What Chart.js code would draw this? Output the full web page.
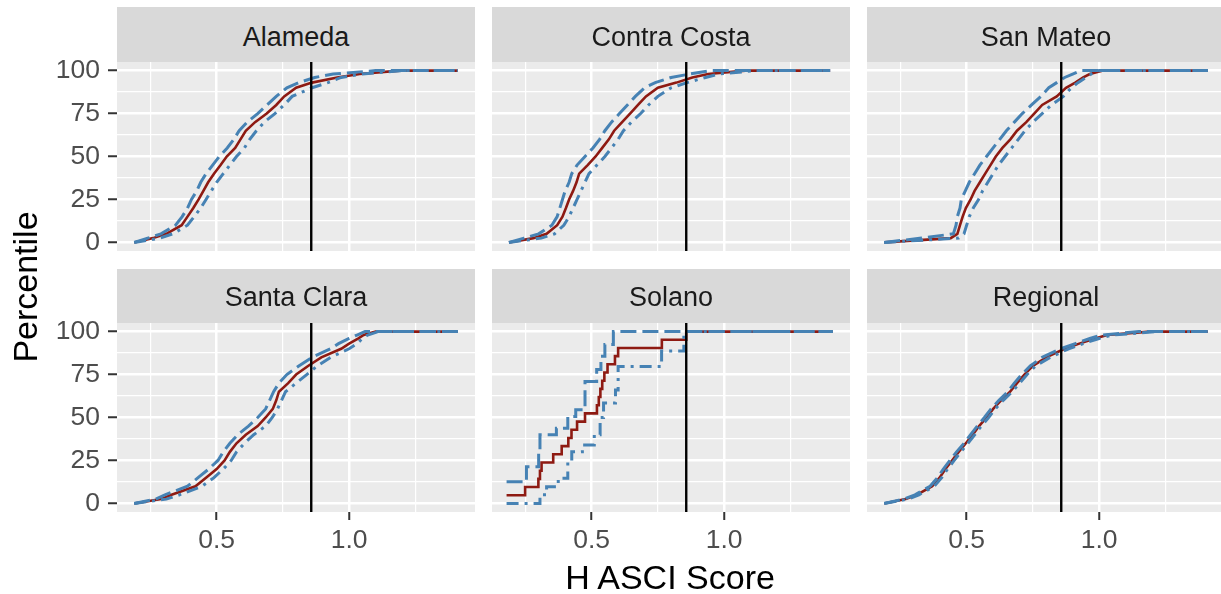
<!DOCTYPE html>
<html><head><meta charset="utf-8">
<script src="https://cdn.jsdelivr.net/npm/chart.js@4.4.0/dist/chart.umd.min.js"></script>
<style>
html,body{margin:0;padding:0;background:#fff;width:1221px;height:594px;overflow:hidden;position:relative;font-family:"Liberation Sans",Arial,sans-serif;}
.strip{position:absolute;background:#D9D9D9;}
.strip span{position:absolute;left:0;right:0;text-align:center;font-size:27px;line-height:27px;color:#1A1A1A;white-space:nowrap;}
canvas{position:absolute;}
.title{position:absolute;color:#000;font-size:34px;line-height:34px;white-space:nowrap;text-align:center;}
</style></head><body>
<script>
// ---------- DATA ----------
const panelNames = ['Alameda','Contra Costa','San Mateo','Santa Clara','Solano','Regional'];
const xTickVals = [0.25, 0.5, 0.75, 1.0, 1.25];
const xTickLabels = ['', '0.5', '', '1.0', ''];
const yTickVals = [0, 12.5, 25, 37.5, 50, 62.5, 75, 87.5, 100];
const yTickLabels = ['0', '', '25', '', '50', '', '75', '', '100'];
const thresholdScore = 0.857;

// percentile levels shared by the smooth panels (last entry = right end of line)
const levelsY = [0, 2.5, 5, 10, 15, 20, 25, 30, 35, 40, 45, 50, 55, 60, 65, 70, 75, 80, 85, 90, 93, 96, 98, 100, 100];

const alamedaMed = [0.189, 0.26, 0.31, 0.368, 0.39, 0.412, 0.432, 0.45, 0.468, 0.49, 0.515, 0.538, 0.57, 0.59, 0.61, 0.645, 0.689, 0.725, 0.755, 0.80, 0.86, 0.955, 1.04, 1.19, 1.41];
const alamedaUp  = [0.189, 0.24, 0.29, 0.345, 0.37, 0.39, 0.405, 0.425, 0.44, 0.46, 0.485, 0.51, 0.54, 0.565, 0.585, 0.615, 0.655, 0.69, 0.725, 0.765, 0.81, 0.87, 0.94, 1.10, 1.41];
const alamedaLo  = [0.189, 0.285, 0.335, 0.39, 0.415, 0.44, 0.46, 0.48, 0.50, 0.525, 0.55, 0.575, 0.605, 0.625, 0.65, 0.68, 0.72, 0.755, 0.785, 0.86, 0.92, 0.97, 1.05, 1.20, 1.41];

const contraMed = [0.188, 0.28, 0.33, 0.37, 0.39, 0.403, 0.415, 0.43, 0.443, 0.453, 0.485, 0.515, 0.54, 0.565, 0.585, 0.615, 0.645, 0.675, 0.705, 0.75, 0.82, 0.88, 0.94, 1.08, 1.40];
const contraUp  = [0.188, 0.245, 0.30, 0.35, 0.37, 0.38, 0.39, 0.40, 0.415, 0.425, 0.445, 0.475, 0.505, 0.53, 0.55, 0.575, 0.605, 0.635, 0.665, 0.70, 0.74, 0.80, 0.87, 0.95, 1.40];
const contraLo  = [0.188, 0.31, 0.36, 0.395, 0.415, 0.43, 0.445, 0.46, 0.475, 0.49, 0.52, 0.55, 0.575, 0.60, 0.62, 0.65, 0.685, 0.715, 0.75, 0.80, 0.86, 0.93, 0.98, 1.12, 1.40];

const mateoMed = [0.189, 0.44, 0.465, 0.475, 0.485, 0.497, 0.515, 0.53, 0.55, 0.57, 0.59, 0.61, 0.635, 0.665, 0.69, 0.725, 0.755, 0.785, 0.84, 0.875, 0.91, 0.94, 0.965, 1.015, 1.41];
const mateoUp  = [0.189, 0.33, 0.45, 0.46, 0.465, 0.475, 0.48, 0.495, 0.51, 0.53, 0.55, 0.575, 0.60, 0.625, 0.65, 0.68, 0.71, 0.745, 0.78, 0.81, 0.84, 0.87, 0.90, 0.93, 1.41];
const mateoLo  = [0.189, 0.47, 0.49, 0.50, 0.51, 0.525, 0.545, 0.56, 0.58, 0.60, 0.62, 0.645, 0.67, 0.695, 0.72, 0.75, 0.785, 0.82, 0.865, 0.895, 0.92, 0.95, 0.97, 1.0, 1.41];

const claraMed = [0.189, 0.29, 0.33, 0.42, 0.46, 0.50, 0.53, 0.55, 0.575, 0.61, 0.655, 0.685, 0.712, 0.725, 0.735, 0.77, 0.80, 0.845, 0.895, 0.97, 1.0, 1.035, 1.055, 1.10, 1.41];
const claraUp  = [0.189, 0.27, 0.305, 0.39, 0.43, 0.47, 0.505, 0.525, 0.55, 0.58, 0.62, 0.655, 0.685, 0.70, 0.715, 0.735, 0.765, 0.81, 0.86, 0.93, 0.96, 1.0, 1.03, 1.06, 1.41];
const claraLo  = [0.189, 0.31, 0.36, 0.445, 0.49, 0.525, 0.555, 0.575, 0.605, 0.64, 0.685, 0.71, 0.73, 0.745, 0.76, 0.80, 0.84, 0.88, 0.93, 1.0, 1.03, 1.05, 1.07, 1.11, 1.41];

const regionalMed = [0.189, 0.27, 0.312, 0.37, 0.398, 0.42, 0.445, 0.47, 0.497, 0.523, 0.547, 0.575, 0.60, 0.63, 0.664, 0.69, 0.718, 0.75, 0.80, 0.87, 0.925, 0.985, 1.03, 1.19, 1.41];
const regionalUp  = [0.189, 0.262, 0.305, 0.362, 0.39, 0.412, 0.437, 0.462, 0.49, 0.515, 0.54, 0.567, 0.592, 0.622, 0.655, 0.68, 0.708, 0.74, 0.785, 0.855, 0.91, 0.965, 1.01, 1.15, 1.41];
const regionalLo  = [0.189, 0.278, 0.32, 0.378, 0.406, 0.428, 0.453, 0.478, 0.505, 0.531, 0.555, 0.583, 0.608, 0.638, 0.672, 0.70, 0.728, 0.76, 0.815, 0.885, 0.94, 1.0, 1.05, 1.22, 1.41];

// Solano: few sites, clear steps
const solanoMedX = [0.179, 0.249, 0.299, 0.305, 0.311, 0.355, 0.387, 0.412, 0.424, 0.445, 0.475, 0.52, 0.527, 0.533, 0.54, 0.548, 0.56, 0.588, 0.60, 0.765, 0.857, 1.41];
const solanoMedY = [4.76, 9.52, 14.29, 19.05, 23.81, 28.57, 33.33, 38.1, 42.86, 47.62, 52.38, 57.14, 61.9, 66.67, 71.43, 76.19, 80.95, 85.71, 90.48, 95.24, 100, 100];
const solanoUpX  = [0.179, 0.254, 0.30, 0.305, 0.367, 0.41, 0.44, 0.475, 0.519, 0.535, 0.55, 0.582, 1.41];
const solanoUpY  = [12.6, 21.4, 30, 39.9, 43.8, 50.6, 54.5, 71, 78, 85.7, 92.5, 100, 100];
const solanoLoX  = [0.179, 0.305, 0.33, 0.374, 0.41, 0.425, 0.465, 0.51, 0.532, 0.545, 0.59, 0.60, 0.764, 0.848, 1.41];
const solanoLoY  = [0, 5, 9.7, 14.6, 24.3, 30, 34, 40, 50, 58.5, 66, 79.7, 88.7, 100, 100];

// ---------- LAYOUT / STYLE ----------
const COL_L = [117, 492, 867];
const PANEL_W = 358;
const STRIP_TOP = [7, 269];
const STRIP_H = [55, 54];
const STRIP_TXT = [16.8, 14.8];
const PLOT_TOP = [62, 323];
const PLOT_H = 189;
const X_MIN = 0.124, X_MAX = 1.475;
const RED = '#8E1A12', BLUE = '#4682B4';
const FONT = '"Liberation Sans", Arial, sans-serif';

function pts(xs, ys) { return xs.map((x, i) => ({x: x, y: ys[i]})); }

const panels = [
  {med: pts(alamedaMed, levelsY), up: pts(alamedaUp, levelsY), lo: pts(alamedaLo, levelsY), stepped: false},
  {med: pts(contraMed, levelsY), up: pts(contraUp, levelsY), lo: pts(contraLo, levelsY), stepped: false},
  {med: pts(mateoMed, levelsY), up: pts(mateoUp, levelsY), lo: pts(mateoLo, levelsY), stepped: false},
  {med: pts(claraMed, levelsY), up: pts(claraUp, levelsY), lo: pts(claraLo, levelsY), stepped: false},
  {med: pts(solanoMedX, solanoMedY), up: pts(solanoUpX, solanoUpY), lo: pts(solanoLoX, solanoLoY), stepped: true},
  {med: pts(regionalMed, levelsY), up: pts(regionalUp, levelsY), lo: pts(regionalLo, levelsY), stepped: false}
];

const bgPlugin = {
  id: 'panelBg',
  beforeDraw(chart) {
    const a = chart.chartArea, ctx = chart.ctx;
    ctx.save();
    ctx.fillStyle = '#EBEBEB';
    ctx.fillRect(a.left, a.top, a.right - a.left, a.bottom - a.top);
    ctx.restore();
  }
};

function isMajor(vals, labels, v) {
  const i = vals.indexOf(v);
  return i >= 0 && labels[i] !== '';
}

function makePanel(idx) {
  const r = Math.floor(idx / 3), c = idx % 3;
  const p = panels[idx];
  // strip
  const s = document.createElement('div');
  s.className = 'strip';
  s.style.left = COL_L[c] + 'px';
  s.style.top = STRIP_TOP[r] + 'px';
  s.style.width = PANEL_W + 'px';
  s.style.height = STRIP_H[r] + 'px';
  const sp = document.createElement('span');
  sp.style.top = STRIP_TXT[r] + 'px';
  sp.textContent = panelNames[idx];
  s.appendChild(sp);
  document.body.appendChild(s);

  const padL = 4, padR = 20, padT = 32, padB = 32;
  const yW = c === 0 ? COL_L[0] - padL : 0;
  const xH = r === 1 ? 50 : 0;
  const w = padL + yW + PANEL_W + padR, h = padT + PLOT_H + xH + padB;
  const cv = document.createElement('canvas');
  cv.width = w; cv.height = h;
  cv.style.width = w + 'px'; cv.style.height = h + 'px';
  cv.style.left = (COL_L[c] - yW - padL) + 'px';
  cv.style.top = (PLOT_TOP[r] - padT) + 'px';
  document.body.appendChild(cv);

  const common = {showLine: true, pointRadius: 0, pointHoverRadius: 0, fill: false, stepped: p.stepped};
  new Chart(cv, {
    type: 'scatter',
    data: {
      datasets: [
        {data: [{x: thresholdScore, y: -5}, {x: thresholdScore, y: 105}], showLine: true, pointRadius: 0, borderColor: '#000000', borderWidth: 2.4},
        Object.assign({data: p.up, borderColor: BLUE, borderWidth: 3, borderDash: [16, 6]}, common),
        Object.assign({data: p.lo, borderColor: BLUE, borderWidth: 3, borderDash: [12, 6, 3, 6]}, common),
        Object.assign({data: p.med, borderColor: RED, borderWidth: 2.6}, common)
      ]
    },
    options: {
      responsive: false, animation: false, devicePixelRatio: 1,
      layout: {padding: {left: padL, right: padR, top: padT, bottom: padB}},
      plugins: {legend: {display: false}, tooltip: {enabled: false}},
      scales: {
        x: {
          type: 'linear', min: X_MIN, max: X_MAX,
          afterBuildTicks: sc => { sc.ticks = xTickVals.map(v => ({value: v})); },
          afterFit: sc => { sc.height = xH; },
          border: {display: false},
          grid: {
            color: '#FFFFFF',
            lineWidth: ctx => (ctx.tick && isMajor(xTickVals, xTickLabels, ctx.tick.value)) ? 2.5 : 1.2,
            tickColor: ctx => (ctx.tick && isMajor(xTickVals, xTickLabels, ctx.tick.value)) ? '#333333' : 'rgba(0,0,0,0)',
            tickWidth: 2, tickLength: 8, drawTicks: r === 1
          },
          ticks: {
            display: r === 1, autoSkip: false, maxRotation: 0, minRotation: 0, padding: 5,
            color: '#4D4D4D', font: {family: FONT, size: 26.5},
            callback: (v, i) => xTickLabels[i]
          }
        },
        y: {
          type: 'linear', min: -5, max: 105,
          afterBuildTicks: sc => { sc.ticks = yTickVals.map(v => ({value: v})); },
          afterFit: sc => { sc.width = yW; },
          border: {display: false},
          grid: {
            color: '#FFFFFF',
            lineWidth: ctx => (ctx.tick && isMajor(yTickVals, yTickLabels, ctx.tick.value)) ? 2.5 : 1.2,
            tickColor: ctx => (ctx.tick && isMajor(yTickVals, yTickLabels, ctx.tick.value)) ? '#333333' : 'rgba(0,0,0,0)',
            tickWidth: 2, tickLength: 9, drawTicks: c === 0
          },
          ticks: {
            display: c === 0, autoSkip: false, padding: 8,
            color: '#4D4D4D', font: {family: FONT, size: 26.5},
            callback: (v, i) => yTickLabels[i]
          }
        }
      }
    },
    plugins: [bgPlugin]
  });
}

for (let i = 0; i < 6; i++) makePanel(i);

// axis titles
const xt = document.createElement('div');
xt.className = 'title';
xt.textContent = 'H ASCI Score';
xt.style.left = (670 - 200) + 'px'; xt.style.width = '400px'; xt.style.top = '560px';
document.body.appendChild(xt);

const yt = document.createElement('div');
yt.className = 'title';
yt.textContent = 'Percentile';
yt.style.left = (24.5 - 150) + 'px'; yt.style.width = '300px'; yt.style.height = '34px';
yt.style.top = (287 - 17) + 'px';
yt.style.transform = 'rotate(-90deg)';
yt.style.transformOrigin = '50% 50%';
document.body.appendChild(yt);
</script>
</body></html>
